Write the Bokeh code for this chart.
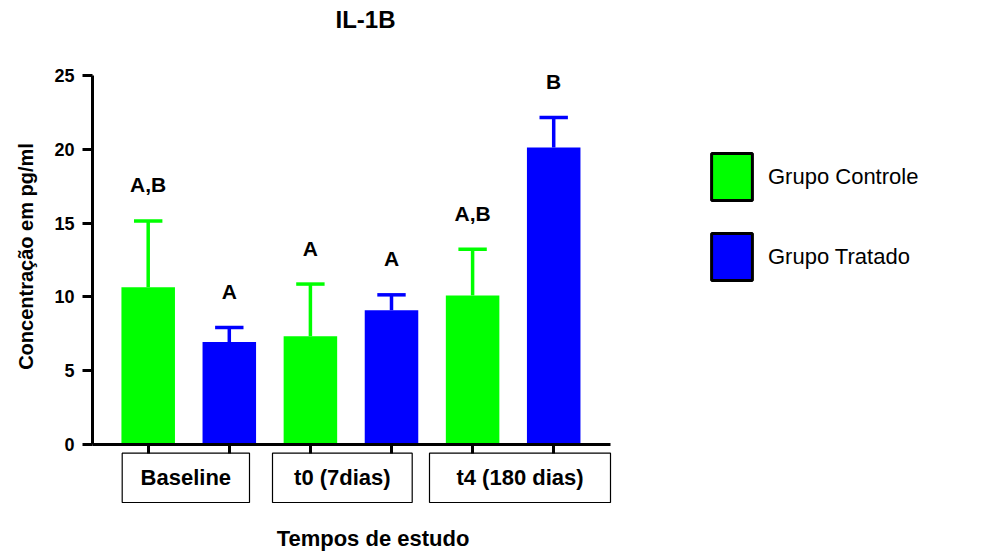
import math
from bokeh.plotting import figure
from bokeh.models import Range1d, ColumnDataSource, Legend, LegendItem, FixedTicker, LinearAxis
from bokeh.transform import dodge
from bokeh.embed import file_html
from bokeh.resources import INLINE
from bokeh.core.properties import value

# ---------------- data ----------------
title_text = "IL-1B"
y_label = "Concentração em pg/ml"
x_label = "Tempos de estudo"
groups = ["Baseline", "t0 (7dias)", "t4 (180 dias)"]
series = ["Grupo Controle", "Grupo Tratado"]
controle_mean = [10.65, 7.34, 10.10]
controle_sem = [4.50, 3.53, 3.12]
tratado_mean = [6.95, 9.10, 20.13]
tratado_sem = [0.98, 1.04, 2.02]
controle_letters = ["A,B", "A", "A,B"]
tratado_letters = ["A", "A", "B"]
y_ticks = [0, 5, 10, 15, 20, 25]

# ---------------- layout constants (plot pixels) ----------------
W, H = 981, 556
AXIS_LEFT_PX = 92
PX_X = 81.1      # px per bar slot
PX_Y = 14.76     # px per y unit
ZERO_Y = 444     # px (from top) of y = 0
FIRST_X = 147.7  # px of first bar centre
BAR_W = 0.66
CAP_W = 0.35
LETTER_GAP = 36  # px above error bar
BOX_EDGES_PX = [(121.7, 249), (272, 411.7), (429, 610)]
BOX_TOP_PX, BOX_BOTTOM_PX = 452.7, 502
AXIS_END_PX = 610

GREEN = "#00FF00"
BLUE = "#0000FF"
FONT = "Liberation Sans"


def px_to_x(px):
    return (px - FIRST_X) / PX_X


def px_to_y(py):
    return (ZERO_Y - py) / PX_Y


x_start = px_to_x(0)
x_end = px_to_x(W)
y_start = px_to_y(H)
y_end = px_to_y(0)
x_axis_at = px_to_x(AXIS_LEFT_PX)

p = figure(width=W, height=H,
           x_range=Range1d(x_start, x_end), y_range=Range1d(y_start, y_end),
           output_backend="svg", toolbar_location=None,
           x_axis_location=None, y_axis_location=None,
           min_border_left=0, min_border_right=0,
           min_border_top=0, min_border_bottom=0)
p.outline_line_color = None
p.grid.visible = False
p.background_fill_color = "white"
p.border_fill_color = "white"

# ---------------- y axis (at the left end of the x axis) ----------------
ya = LinearAxis(fixed_location=x_axis_at, bounds=(0, 25),
                ticker=FixedTicker(ticks=y_ticks, minor_ticks=[]))
ya.axis_line_width = 3
ya.major_tick_line_width = 3
ya.major_tick_in = 0
ya.major_tick_out = 10
ya.minor_tick_line_color = None
ya.major_label_standoff = 8
ya.major_label_text_font = FONT
ya.major_label_text_font_style = "bold"
ya.major_label_text_font_size = "18px"
ya.major_label_text_color = "black"
p.add_layout(ya, "left")

# ---------------- bars + error bars ----------------
n = len(groups)
bar_positions = list(range(2 * n))
letter_dy = LETTER_GAP / PX_Y


def make_source(offset, means, sems, letters):
    xs = [2 * i + offset for i in range(n)]
    upper = [m + s for m, s in zip(means, sems)]
    return ColumnDataSource(dict(x=xs, top=means, upper=upper,
                                 ly=[u + letter_dy for u in upper], label=letters))


src_c = make_source(0, controle_mean, controle_sem, controle_letters)
src_t = make_source(1, tratado_mean, tratado_sem, tratado_letters)

legend_renderers = []
for src, col in ((src_c, GREEN), (src_t, BLUE)):
    # zero-height swatch renderer for the legend (hidden under the x axis line)
    legend_renderers.append(p.vbar(x="x", top=0, bottom=0, width=0.3, fill_color=col,
                                   line_color="black", line_width=3, source=src))
    p.vbar(x="x", top="top", bottom=0, width=BAR_W, fill_color=col, line_color=None, source=src)
    p.segment(x0="x", y0="top", x1="x", y1="upper", line_color=col, line_width=3.5, source=src)
    p.segment(x0=dodge("x", -CAP_W / 2), y0="upper", x1=dodge("x", CAP_W / 2), y1="upper",
              line_color=col, line_width=3.5, source=src)
    p.text(x="x", y="ly", text="label", text_align="center", text_baseline="middle",
           text_font=value(FONT), text_font_style="bold", text_font_size="21px",
           text_color="black", source=src)

# ---------------- x axis (at y = 0) ----------------
xa = LinearAxis(fixed_location=0, bounds=(x_axis_at, px_to_x(AXIS_END_PX)),
                ticker=FixedTicker(ticks=bar_positions, minor_ticks=[]))
xa.axis_line_width = 3
xa.major_tick_line_width = 3
xa.major_tick_in = 0
xa.major_tick_out = 9
xa.minor_tick_line_color = None
xa.major_label_overrides = {i: "" for i in bar_positions}
p.add_layout(xa, "below")

# ---------------- group boxes + labels ----------------
box_src = ColumnDataSource(dict(
    left=[px_to_x(a) for a, b in BOX_EDGES_PX],
    right=[px_to_x(b) for a, b in BOX_EDGES_PX],
    top=[px_to_y(BOX_TOP_PX)] * n,
    bottom=[px_to_y(BOX_BOTTOM_PX)] * n,
    cx=[px_to_x((a + b) / 2) for a, b in BOX_EDGES_PX],
    cy=[px_to_y((BOX_TOP_PX + BOX_BOTTOM_PX) / 2)] * n,
    label=groups,
))
p.quad(left="left", right="right", top="top", bottom="bottom", fill_color=None,
       line_color="black", line_width=1.2, source=box_src)
p.text(x="cx", y="cy", text="label", text_align="center", text_baseline="middle",
       text_font=value(FONT), text_font_style="bold", text_font_size="22px",
       text_color="black", source=box_src)

# ---------------- titles ----------------
p.text(x=[px_to_x(365)], y=[px_to_y(19)], text=[title_text], text_align="center",
       text_baseline="middle", text_font=value(FONT), text_font_style="bold",
       text_font_size="24px", text_color="black")
p.text(x=[px_to_x(372.5)], y=[px_to_y(538)], text=[x_label], text_align="center",
       text_baseline="middle", text_font=value(FONT), text_font_style="bold",
       text_font_size="22px", text_color="black")
p.text(x=[px_to_x(25)], y=[px_to_y(256)], text=[y_label], angle=math.pi / 2,
       text_align="center", text_baseline="middle", text_font=value(FONT),
       text_font_style="bold", text_font_size="20px", text_color="black")

# ---------------- legend ----------------
legend = Legend(items=[LegendItem(label=series[0], renderers=[legend_renderers[0]]),
                       LegendItem(label=series[1], renderers=[legend_renderers[1]])],
                location=(706, 270), glyph_width=51, glyph_height=59, spacing=21,
                label_standoff=11, padding=0, margin=0, border_line_color=None,
                background_fill_alpha=0, label_text_font=FONT,
                label_text_font_size="22px", label_text_color="black")
p.add_layout(legend)

open("out.html", "w").write(file_html(p, INLINE))
